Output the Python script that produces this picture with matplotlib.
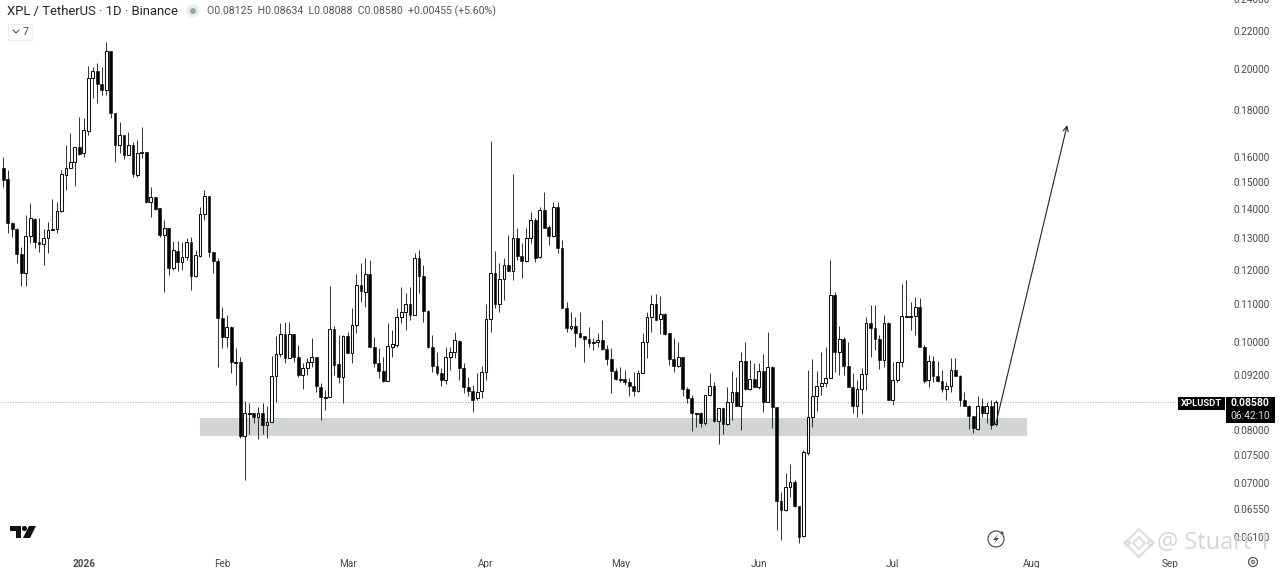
import matplotlib
matplotlib.use('Agg')
import matplotlib.pyplot as plt
import matplotlib.dates as mdates
import numpy as np
import pandas as pd
from matplotlib.lines import Line2D
from matplotlib.patches import Ellipse, Polygon, Rectangle
from matplotlib.ticker import NullLocator

plt.rcParams['font.family'] = ['Roboto', 'DejaVu Sans']

# daily XPL/USDT candles
opens = [
    .1555, .1512, .1352, .1332, .1250, .1191, .1308, .1366, .1289, .1282, .1302, .1329, .1332, .1394, .1527, .1555,
    .1579, .1640, .1615, .1708, .1953, .1988, .1924, .1895, .2092, .1787, .1648, .1691, .1607, .1648, .1527, .1615,
    .1619, .1427, .1445, .1405, .1312, .1336, .1207, .1260, .1225, .1241, .1289, .1182, .1244, .1384, .1448, .1257,
    .1228, .1063, .1013, .1039, .0948, .0951, .0788, .0834, .0836, .0826, .0836, .0811, .0817, .0918, .0970, .1021,
    .0960, .1021, .0963, .0920, .0936, .0951, .0963, .0893, .0867, .0869, .1034, .0946, .0916, .1015, .0972, .1044,
    .1155, .1135, .1188, .0987, .0948, .0929, .0906, .0987, .0992, .1066, .1079, .1101, .1071, .1238, .1182, .1082,
    .0987, .0941, .0925, .0908, .0963, .0975, .1002, .0936, .0893, .0883, .0867, .0883, .0927, .1061, .1191, .1101,
    .1173, .1216, .1197, .1302, .1244, .1228, .1302, .1363, .1241, .1398, .1339, .1308, .1409, .1269, .1091, .1036,
    .1041, .1023, .1015, .1008, .0997, .1000, .1005, .0982, .0958, .0929, .0908, .0911, .0904, .0895, .0883, .0925,
    .1000, .1066, .1101, .1061, .1074, .1023, .0958, .0941, .0963, .0888, .0867, .0834, .0836, .0815, .0873, .0895,
    .0819, .0845, .0813, .0859, .0881, .0849, .0953, .0888, .0911, .0891, .0929, .0859, .0939, .0847, .0668, .0653,
    .0692, .0701, .0660, .0612, .0754, .0826, .0871, .0895, .0902, .0913, .1127, .0975, .1008, .0941, .0891, .0849,
    .0888, .0922, .1049, .1036, .1008, .0955, .1049, .0863, .0908, .0951, .1066, .1066, .1069, .1093, .0987, .0908,
    .0953, .0918, .0906, .0888, .0895, .0931, .0918, .0863, .0851, .0828, .0802, .0849, .0836, .0849, .08125,
]
highs = [
    .1599, .1547, .1356, .1336, .1273, .1380, .1423, .1370, .1370, .1332, .1356, .1438, .1427, .1547, .1648, .1699,
    .1640, .1769, .1765, .2014, .2009, .2029, .2009, .2140, .2092, .1787, .1747, .1691, .1703, .1661, .1669, .1725,
    .1619, .1481, .1445, .1405, .1363, .1336, .1292, .1292, .1289, .1302, .1305, .1263, .1409, .1470, .1448, .1257,
    .1238, .1093, .1071, .1041, .0985, .0963, .0861, .0857, .0836, .0847, .0857, .0849, .0965, .1015, .1049, .1052,
    .1052, .1021, .0992, .0948, .0960, .1010, .0963, .0902, .0885, .1152, .1041, .1018, .1018, .1026, .1091, .1188,
    .1222, .1238, .1231, .1013, .0985, .0963, .1049, .1031, .1091, .1149, .1132, .1149, .1253, .1263, .1216, .1085,
    .1018, .0975, .0936, .0987, .0987, .1026, .1005, .0948, .0916, .0897, .0925, .0941, .1101, .1665, .1260, .1222,
    .1238, .1312, .1531, .1336, .1286, .1336, .1391, .1370, .1409, .1463, .1346, .1427, .1427, .1295, .1107, .1079,
    .1066, .1079, .1015, .1039, .1010, .1023, .1057, .0992, .0985, .0936, .0939, .0931, .0913, .0927, .0931, .1023,
    .1079, .1127, .1130, .1124, .1077, .1023, .1010, .1000, .0963, .0893, .0875, .0836, .0838, .0873, .0925, .0904,
    .0845, .0845, .0893, .0929, .0916, .0975, .1000, .0955, .0948, .0948, .0970, .1026, .0941, .0847, .0683, .0717,
    .0734, .0705, .0660, .0760, .0931, .0958, .0929, .0975, .0987, .1231, .1135, .1041, .1013, .1000, .0925, .0908,
    .0936, .1066, .1099, .1099, .1018, .1071, .1052, .0951, .0951, .1158, .1170, .1107, .1121, .1118, .0992, .0967,
    .0965, .0953, .0931, .0904, .0960, .0960, .0920, .0881, .0853, .0828, .0871, .0867, .0859, .0863, .08634,
]
lows = [
    .1481, .1318, .1305, .1222, .1152, .1152, .1286, .1269, .1257, .1216, .1253, .1329, .1318, .1391, .1470, .1555,
    .1485, .1607, .1599, .1691, .1857, .1833, .1871, .1871, .1765, .1579, .1615, .1591, .1607, .1519, .1519, .1595,
    .1423, .1374, .1398, .1305, .1135, .1185, .1200, .1197, .1200, .1231, .1141, .1179, .1241, .1363, .1241, .1191,
    .0939, .0985, .0987, .0925, .0897, .0784, .0705, .0792, .0815, .0782, .0792, .0784, .0817, .0859, .0963, .0948,
    .0960, .0951, .0916, .0888, .0920, .0939, .0881, .0821, .0842, .0869, .0920, .0902, .0857, .0972, .0948, .1023,
    .1107, .1093, .0987, .0939, .0913, .0904, .0906, .0963, .0987, .1049, .1031, .1057, .1071, .1132, .1052, .0985,
    .0927, .0920, .0895, .0899, .0931, .0960, .0908, .0879, .0871, .0838, .0863, .0867, .0908, .1026, .1091, .1079,
    .1112, .1197, .1170, .1231, .1176, .1225, .1286, .1225, .1238, .1336, .1279, .1305, .1253, .1091, .1026, .1031,
    .0987, .1010, .0951, .0987, .0980, .0987, .0980, .0943, .0879, .0908, .0904, .0897, .0871, .0871, .0881, .0925,
    .0960, .1026, .1057, .1021, .1018, .0943, .0927, .0939, .0871, .0857, .0798, .0806, .0806, .0811, .0871, .0817,
    .0772, .0792, .0811, .0821, .0849, .0800, .0885, .0885, .0891, .0888, .0838, .0859, .0804, .0621, .0605, .0652,
    .0675, .0658, .0601, .0610, .0750, .0806, .0840, .0873, .0891, .0913, .0927, .0920, .0920, .0893, .0836, .0826,
    .0832, .0885, .0963, .0980, .0934, .0939, .0863, .0853, .0904, .0939, .1066, .1031, .1018, .0987, .0902, .0891,
    .0904, .0904, .0881, .0863, .0881, .0918, .0849, .0849, .0802, .0794, .0800, .0826, .0815, .0802, .08088,
]
closes = [
    .1508, .1352, .1332, .1250, .1191, .1308, .1370, .1289, .1282, .1302, .1329, .1332, .1394, .1531, .1555, .1579,
    .1640, .1611, .1712, .1953, .1988, .1924, .1895, .2092, .1787, .1648, .1691, .1607, .1648, .1531, .1615, .1619,
    .1427, .1445, .1401, .1312, .1336, .1207, .1263, .1225, .1241, .1289, .1182, .1247, .1384, .1448, .1257, .1228,
    .1063, .1013, .1039, .0951, .0951, .0788, .0836, .0836, .0826, .0836, .0811, .0817, .0918, .0970, .1021, .0960,
    .1021, .0963, .0920, .0936, .0951, .0963, .0895, .0869, .0869, .1034, .0943, .0916, .1015, .0972, .1044, .1155,
    .1138, .1188, .0987, .0948, .0929, .0906, .0990, .0995, .1066, .1079, .1101, .1071, .1238, .1182, .1082, .0987,
    .0941, .0925, .0908, .0963, .0975, .1005, .0936, .0893, .0883, .0863, .0881, .0927, .1061, .1191, .1101, .1173,
    .1216, .1197, .1302, .1244, .1228, .1302, .1363, .1238, .1398, .1336, .1308, .1409, .1269, .1091, .1036, .1041,
    .1023, .1013, .1008, .0997, .1000, .1005, .0982, .0958, .0929, .0911, .0911, .0904, .0895, .0883, .0925, .1000,
    .1066, .1101, .1057, .1074, .1021, .0958, .0941, .0963, .0888, .0867, .0836, .0836, .0815, .0873, .0895, .0819,
    .0845, .0813, .0859, .0881, .0849, .0953, .0888, .0911, .0891, .0929, .0859, .0939, .0847, .0668, .0653, .0692,
    .0701, .0660, .0610, .0756, .0826, .0871, .0895, .0902, .0913, .1127, .0975, .1008, .0941, .0893, .0849, .0888,
    .0922, .1049, .1036, .1008, .0955, .1049, .0863, .0908, .0951, .1069, .1069, .1069, .1093, .0987, .0906, .0953,
    .0918, .0906, .0888, .0895, .0931, .0918, .0863, .0851, .0828, .0804, .0849, .0836, .0849, .0811, .08580,
]
first_day = '2025-12-14'

price_ticks = [0.22, 0.20, 0.18, 0.16, 0.15, 0.14, 0.13, 0.12, 0.11, 0.10, 0.092, 0.08, 0.075, 0.07, 0.0655, 0.061]
month_days = ['2026-01-01', '2026-02-01', '2026-03-01', '2026-04-01', '2026-05-01', '2026-06-01', '2026-07-01',
              '2026-08-01', '2026-09-01']
month_labels = ['2026', 'Feb', 'Mar', 'Apr', 'May', 'Jun', 'Jul', 'Aug', 'Sep']

last_price = 0.0858
zone_low, zone_high = 0.0788, 0.0825
zone_start, zone_end = '2026-01-27', '2026-07-31'
arrow_start = ('2026-07-24', 0.0811)
arrow_end = ('2026-08-09', 0.1733)

W, H = 1280, 568
fig = plt.figure(figsize=(W / 100, H / 100), dpi=100, facecolor='white')
ax = fig.add_axes([0, 20 / H, 1229 / W, 548 / H])

o, hi, lo, c = map(np.array, (opens, highs, lows, closes))
days = mdates.date2num(pd.date_range(first_day, periods=len(o)))
up = c >= o

ax.set_yscale('log')
ax.add_patch(Rectangle((mdates.datestr2num(zone_start), zone_low),
                       mdates.datestr2num(zone_end) - mdates.datestr2num(zone_start), zone_high - zone_low,
                       facecolor='#d2d6d3', edgecolor='none', zorder=1))
ax.axhline(last_price, color='#8a8a8a', lw=0.6, ls=(0, (1, 2)), zorder=1)

ax.vlines(days, lo, hi, color='#222222', lw=0.65, zorder=2)
ax.bar(days[up], (c - o)[up], bottom=o[up], width=0.62, facecolor='white', edgecolor='#111111', lw=0.75, zorder=3)
ax.bar(days[~up], (o - c)[~up], bottom=c[~up], width=0.62, facecolor='black', edgecolor='black', lw=0.4, zorder=3)

ax.annotate('', xy=(mdates.datestr2num(arrow_end[0]), arrow_end[1]),
            xytext=(mdates.datestr2num(arrow_start[0]), arrow_start[1]),
            arrowprops=dict(arrowstyle='->', color='#222222', lw=0.8, shrinkA=0, shrinkB=0, mutation_scale=9), zorder=4)

ax.set_xlim(days[0] - 0.74, days[0] + 274.2)
ax.set_ylim(0.0593, 0.2380)
ax.yaxis.tick_right()
ax.set_yticks(price_ticks)
ax.set_yticklabels(['%.5f' % t for t in price_ticks])
ax.yaxis.set_minor_locator(NullLocator())
ax.set_xticks(mdates.datestr2num(month_days))
ax.set_xticklabels(month_labels)
ax.tick_params(axis='y', length=0, pad=3, labelsize=7.2, labelcolor='#4a4a4a')
ax.tick_params(axis='x', length=0, pad=8, labelsize=7.2, labelcolor='#4a4a4a')
ax.get_xticklabels()[0].set_fontweight('bold')
for side in ax.spines.values():
    side.set_visible(False)


# everything below is chrome placed in picture pixels
def fx(x):
    return x / W


def fy(y):
    return 1 - y / H


def ftext(x, y, s, **kw):
    kw.setdefault('va', 'center')
    fig.text(fx(x), fy(y), s, **kw)


def fpoly(points, **kw):
    fig.add_artist(Polygon([(fx(x), fy(y)) for x, y in points], transform=fig.transFigure, **kw))


def fline(xs, ys, **kw):
    fig.add_artist(Line2D([fx(x) for x in xs], [fy(y) for y in ys], transform=fig.transFigure, **kw))


def fdot(x, y, r, **kw):
    fig.add_artist(Ellipse((fx(x), fy(y)), 2 * r / W, 2 * r / H, transform=fig.transFigure, **kw))


ftext(1233, 0, '0.24000', fontsize=7.2, color='#4a4a4a')

ftext(7, 11, 'XPL / TetherUS · 1D · Binance', fontsize=9.4, color='#222222')
ftext(207, 11, 'O0.08125  H0.08634  L0.08088  C0.08580  +0.00455 (+5.60%)', fontsize=7.6, color='#555555')
fdot(193, 11, 6.5, fc='#e4eeea', ec='none')
fdot(193, 11, 3, fc='#9aa8a2', ec='none')

fig.add_artist(Rectangle((fx(8), fy(40)), 24 / W, 16 / H, transform=fig.transFigure, fc='white', ec='#eeeeee', lw=0.7))
fline([13, 16, 19], [30, 33, 30], color='#444444', lw=0.7)
ftext(23, 32, '7', fontsize=7.5, color='#444444')

# last price tags
fig.add_artist(Rectangle((fx(1178), fy(410)), 47 / W, 13 / H, transform=fig.transFigure, fc='black', ec='none'))
fig.add_artist(Rectangle((fx(1226), fy(423)), 49 / W, 26 / H, transform=fig.transFigure, fc='black', ec='none'))
ftext(1201.5, 403.5, 'XPLUSDT', fontsize=6.8, color='white', fontweight='bold', ha='center')
ftext(1250, 403.5, '0.08580', fontsize=7.5, color='white', fontweight='bold', ha='center')
ftext(1250, 416, '06:42:10', fontsize=7.4, color='#dddddd', ha='center')

# TradingView logo
fpoly([(10, 526), (21, 526), (21, 538), (16, 538), (16, 531), (10, 531)], fc='#111111', ec='none')
fdot(24.5, 528.5, 2.6, fc='#111111', ec='none')
fpoly([(29, 526), (36, 526), (30, 538), (23, 538)], fc='#111111', ec='none')

# lightning badge
fdot(996, 539, 8, fc='white', ec='#555555', lw=0.9)
fpoly([(998, 534), (993, 540), (996, 540), (994, 544), (999, 538), (996, 538)], fc='#555555', ec='none')
fdot(1002, 533, 1.6, fc='#555555', ec='none')

# settings icon
fdot(1253, 562, 4.5, fc='white', ec='#444444', lw=0.8)
fdot(1253, 562, 1.5, fc='white', ec='#444444', lw=0.7)

# watermark
for cx, cy, r in [(1139, 543, 14), (1127, 543, 3), (1151, 543, 3)]:
    fpoly([(cx - r, cy), (cx, cy - r), (cx + r, cy), (cx, cy + r)], fc='none', ec='#dcdcdc', lw=1.4)
fpoly([(1133, 543), (1139, 537), (1145, 543), (1139, 549)], fc='none', ec='#dcdcdc', lw=1.4)
ftext(1157, 543, '@ Stuart 1', fontsize=17, color='#d6d6d6', family=['Open Sans', 'DejaVu Sans'])

fig.savefig('out.png', dpi=100)
